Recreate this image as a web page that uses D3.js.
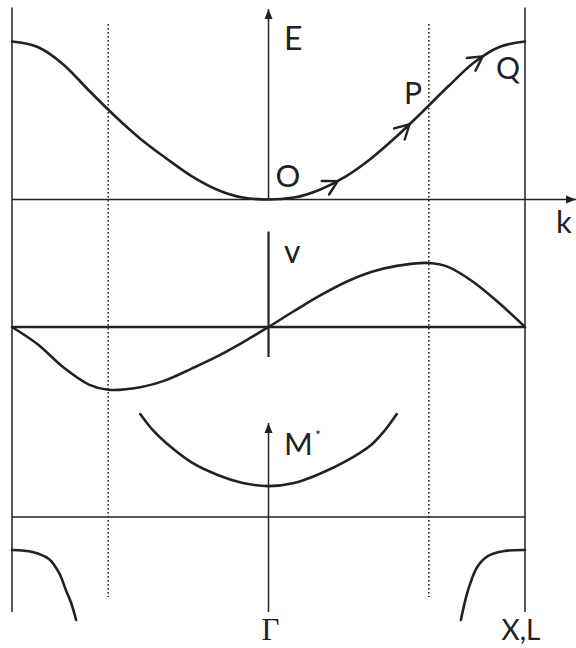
<!DOCTYPE html>
<html>
<head>
<meta charset="utf-8">
<script src="https://cdn.jsdelivr.net/npm/d3@7"></script>
<style>
  html, body { margin: 0; padding: 0; background: #fff; }
  svg { display: block; }
  text { font-family: Lato, "Noto Sans", sans-serif; fill: #222; }
</style>
</head>
<body>
<svg id="chart" width="576" height="648"></svg>
<script>
// Wave vector along the zone: -1 (zone edge) .. 0 (Γ) .. 1 (X,L)
const kE   = [-1, -0.9, -0.8, -0.7, -0.6, -0.5, -0.4, -0.3, -0.2, -0.1, 0, 0.1, 0.2, 0.3, 0.4, 0.5, 0.6, 0.7, 0.8, 0.9, 1];
const energy = [1.0, 0.965, 0.855, 0.69, 0.53, 0.385, 0.262, 0.148, 0.062, 0.013, 0, 0.013, 0.062, 0.145, 0.26, 0.40, 0.555, 0.715, 0.865, 0.965, 1.0];

// Group velocity
const kV = [-1, -0.9, -0.8, -0.7, -0.625, -0.5, -0.4, -0.3, -0.2, -0.1, 0, 0.1, 0.2, 0.3, 0.4, 0.5, 0.625, 0.7, 0.8, 0.9, 1];
const velocity = [0, -0.27, -0.63, -0.90, -0.98, -0.94, -0.83, -0.65, -0.46, -0.24, 0, 0.25, 0.49, 0.70, 0.86, 0.955, 1.0, 0.94, 0.70, 0.37, 0];

// Effective mass: central branch and the two branches near the zone edges
const kMid = [-0.5, -0.45, -0.4, -0.3, -0.2, -0.1, 0, 0.1, 0.2, 0.3, 0.4, 0.45, 0.5];
const massMid = [1.0, 0.84, 0.72, 0.53, 0.41, 0.33, 0.30, 0.33, 0.42, 0.54, 0.70, 0.83, 1.0];
const kLeft = [-1, -0.92, -0.855, -0.815, -0.79, -0.77, -0.75];
const massLeft = [-0.32, -0.34, -0.41, -0.55, -0.71, -0.83, -1.0];
const kRight = [0.75, 0.77, 0.79, 0.815, 0.855, 0.92, 1];
const massRight = [-1.0, -0.78, -0.62, -0.48, -0.38, -0.33, -0.32];

// Inflection points (dotted guides) and direction arrows on E(k)
const kInflect = [-0.625, 0.625];
const kArrows = [0.27, 0.55, 0.835];
const tickLabels = [{k: 0, text: "Γ"}, {k: 1, text: "X,L"}];

const svg = d3.select("#chart");
const ink = "#222";

const x = d3.scaleLinear().domain([-1, 1]).range([12, 525]);
const yE = d3.scaleLinear().domain([0, 1]).range([199.5, 41.5]);
const yV = d3.scaleLinear().domain([-1, 1]).range([391, 263]);
const yM = d3.scaleLinear().domain([0, 1]).range([517, 414]);

// Arrowhead marker for the axes
svg.append("defs").append("marker")
  .attr("id", "head")
  .attr("viewBox", "0 0 10 10")
  .attr("refX", 10).attr("refY", 5)
  .attr("markerWidth", 10).attr("markerHeight", 10)
  .attr("markerUnits", "userSpaceOnUse")
  .attr("orient", "auto")
  .append("path").attr("d", "M0,1 L10,5 L0,9 Z").attr("fill", ink);

const g = svg.append("g");

// Dotted guides through the inflection points
g.selectAll("line.dot").data(kInflect).join("line")
  .attr("x1", d => x(d)).attr("x2", d => x(d))
  .attr("y1", 24).attr("y2", 597)
  .attr("stroke", ink).attr("stroke-width", 1.6)
  .attr("stroke-dasharray", "1.6,2.4");

// Zone boundaries
g.selectAll("line.edge").data([-1, 1]).join("line")
  .attr("x1", d => x(d)).attr("x2", d => x(d))
  .attr("y1", 7.5).attr("y2", 612)
  .attr("stroke", ink).attr("stroke-width", 1.5);

// Energy axes
g.append("line").attr("x1", x(-1)).attr("x2", 576).attr("y1", yE(0)).attr("y2", yE(0))
  .attr("stroke", ink).attr("stroke-width", 1.5).attr("marker-end", "url(#head)");
g.append("line").attr("x1", x(0)).attr("x2", x(0)).attr("y1", yE(0)).attr("y2", 9)
  .attr("stroke", ink).attr("stroke-width", 1.5).attr("marker-end", "url(#head)");

// Velocity axes
g.append("line").attr("x1", x(-1)).attr("x2", x(1)).attr("y1", yV(0)).attr("y2", yV(0))
  .attr("stroke", ink).attr("stroke-width", 2.4);
g.append("line").attr("x1", x(0)).attr("x2", x(0)).attr("y1", 231.5).attr("y2", 357)
  .attr("stroke", ink).attr("stroke-width", 2.2);

// Effective-mass axes
g.append("line").attr("x1", x(-1)).attr("x2", x(1)).attr("y1", yM(0)).attr("y2", yM(0))
  .attr("stroke", ink).attr("stroke-width", 1.5);
g.append("line").attr("x1", x(0)).attr("x2", x(0)).attr("y1", 612).attr("y2", 423)
  .attr("stroke", ink).attr("stroke-width", 1.5).attr("marker-end", "url(#head)");

function curve(ks, vs, y, shape) {
  return d3.line().x((d, i) => x(ks[i])).y((d, i) => y(vs[i])).curve(shape)(vs);
}
const curveStyle = sel => sel.attr("fill", "none").attr("stroke", ink)
  .attr("stroke-width", 2.6).attr("stroke-linecap", "round");
const smooth = d3.curveCatmullRom.alpha(0.5);

const ePath = g.append("path").attr("d", curve(kE, energy, yE, d3.curveMonotoneX)).call(curveStyle);
g.append("path").attr("d", curve(kV, velocity, yV, smooth)).call(curveStyle);
g.append("path").attr("d", curve(kMid, massMid, yM, smooth)).call(curveStyle);
g.append("path").attr("d", curve(kLeft, massLeft, yM, smooth)).call(curveStyle);
g.append("path").attr("d", curve(kRight, massRight, yM, smooth)).call(curveStyle);

// Open chevrons along E(k) showing the direction of motion
const node = ePath.node();
const total = node.getTotalLength();
function pointAtX(px) {
  let lo = 0, hi = total;
  for (let i = 0; i < 40; i++) {
    const mid = (lo + hi) / 2;
    if (node.getPointAtLength(mid).x < px) lo = mid; else hi = mid;
  }
  return (lo + hi) / 2;
}
kArrows.forEach(k => {
  const L = pointAtX(x(k));
  const p = node.getPointAtLength(L);
  const q = node.getPointAtLength(L - 4);
  const ang = Math.atan2(q.y - p.y, q.x - p.x);
  const arm = 16, spread = 0.5;
  const a1 = [p.x + arm * Math.cos(ang + spread), p.y + arm * Math.sin(ang + spread)];
  const a2 = [p.x + arm * Math.cos(ang - spread), p.y + arm * Math.sin(ang - spread)];
  g.append("path")
    .attr("d", `M${a1[0]},${a1[1]} L${p.x},${p.y} L${a2[0]},${a2[1]}`)
    .attr("fill", "none").attr("stroke", ink).attr("stroke-width", 2.4)
    .attr("stroke-linejoin", "miter").attr("stroke-linecap", "round");
});

// Labels
const label = (tx, ty, s, size, anchor) => g.append("text")
  .attr("x", tx).attr("y", ty).attr("font-size", size)
  .attr("text-anchor", anchor || "start").text(s);

label(284, 50, "E", 32);
label(288, 187, "O", 31, "middle");
label(404, 104, "P", 30);
label(496, 79, "Q", 30);
label(556, 233, "k", 31);
label(284, 263, "v", 32);
label(284, 455, "M", 31);
label(315, 440, "*", 14);

g.selectAll("text.tick").data(tickLabels).join("text")
  .attr("x", d => x(d.k) + (d.k === 0 ? 2 : -4))
  .attr("y", 640)
  .attr("text-anchor", "middle")
  .attr("font-size", d => d.k === 0 ? 31 : 28)
  .style("font-family", d => d.k === 0 ? "'Liberation Serif', 'DejaVu Serif', serif" : null)
  .text(d => d.text);
</script>
</body>
</html>
